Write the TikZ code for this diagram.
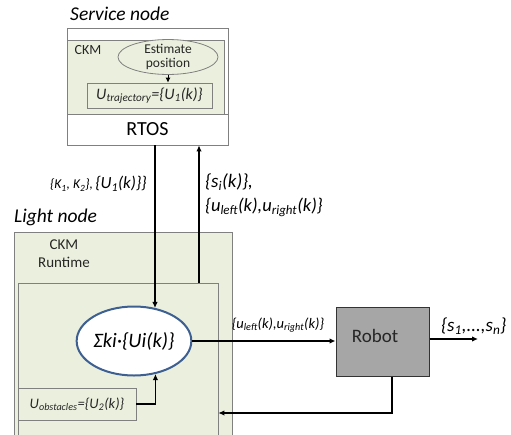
\documentclass[tikz,border=0pt]{standalone}
\usepackage{fontspec}
\setmainfont{Carlito}
\usetikzlibrary{shapes.geometric,arrows.meta}
\definecolor{ckmgreen}{HTML}{EBF0DE}
\definecolor{boxgray}{HTML}{808080}
\definecolor{robotgray}{HTML}{A6A6A6}
\definecolor{ellblue}{HTML}{3D5F91}
\definecolor{txtgray}{HTML}{262626}
\newcommand{\fsz}[1]{\fontsize{#1}{\the\dimexpr #1pt*6/5\relax}\selectfont}
\newcommand{\sub}[1]{\textsubscript{#1}}
\begin{document}
\begin{tikzpicture}[x=1pt,y=-1pt,
  grnbox/.style={draw=boxgray, fill=ckmgreen, line width=0.8pt, inner sep=0pt, text=txtgray},
  whitebox/.style={draw=boxgray, fill=white, line width=0.8pt, inner sep=0pt},
  conn/.style={line width=1.5pt, -{Latex[length=6pt,width=5.5pt]}},
  plain/.style={inner sep=0pt, align=center},
  lbl/.style={inner sep=0pt, font=\itshape}]
\useasboundingbox (0,0) rectangle (511,434);

% ---------------- Service node ----------------
\node[lbl, anchor=west, font=\fsz{19.5}\itshape] (svclbl) at (70,14) {Service node};
\node[whitebox, minimum width=161pt, minimum height=117pt] (svc) at (147.5,86.5) {};
\node[grnbox, minimum width=157pt, minimum height=74pt] (ckm) at (145.5,77) {};
\node[plain, font=\fsz{14}, text=txtgray] (ckmlbl) at (88,50) {CKM};
\node[grnbox, ellipse, minimum width=100pt, minimum height=32pt, font=\fsz{13.5}, align=center] (est) at (168,57) {Estimate\\[-3pt]position};
\node[grnbox, minimum width=125pt, minimum height=25pt, font=\fsz{16}\itshape] (utraj) at (149.5,95.5) {U\sub{trajectory}=\{U\sub{1}(k)\}};
\node[whitebox, minimum width=161pt, minimum height=31pt, font=\fsz{20}] (rtos) at (147.5,129.5) {RTOS};
\draw[line width=0.8pt, -{Latex[length=5pt,width=5pt]}] (est.south) -- (utraj.north -| est.south);

% ---------------- Light node ----------------
\node[lbl, anchor=west, font=\fsz{19.5}\itshape] (lightlbl) at (14,217) {Light node};
\node[grnbox, minimum width=218pt, minimum height=208pt] (light) at (123,336) {};
\node[grnbox, minimum width=200pt, minimum height=157pt] (inner) at (118,361.5) {};
\node[plain, font=\fsz{15}, text=txtgray] (ckmrt) at (64,254) {CKM\\[0pt]Runtime};
\node[ellipse, draw=ellblue, fill=white, line width=2pt, minimum width=107pt, minimum height=69pt, inner sep=0pt, font=\fsz{20.5}\itshape] (sig) at (134,341) {Σki·\{Ui(k)\}};
\node[grnbox, minimum width=118pt, minimum height=32pt, font=\fsz{14.5}\itshape] (uobs) at (77,404) {U\sub{obstacles}=\{U\sub{2}(k)\}};

% ---------------- Robot ----------------
\node[draw=black!80, fill=robotgray, line width=1pt, minimum width=93pt, minimum height=69pt, inner sep=0pt] (robot) at (382.5,341.5) {};
\node[plain, font=\fsz{19}, text=txtgray] (robotlbl) at (375,336) {Robot};

% ---------------- helper coordinates ----------------
\coordinate (dn) at (155,0);
\coordinate (ux) at (199,0);
\coordinate (fb) at (392,413);
\coordinate (out) at (478,339);

% ---------------- connectors ----------------
\draw[conn] (rtos.south -| dn) -- (dn |- sig.57);
\draw[conn] (inner.north -| ux) -- (rtos.south -| ux);
\draw[conn] (uobs.east) -| (sig.-57);
\draw[conn] (sig.east) -- (robot.west |- sig.east);
\draw[conn] (robot.east |- out) -- (out);
\draw[conn] (robot.south -| fb) -- (fb) -- (fb -| inner.east);

% ---------------- labels ----------------
\node[lbl, anchor=east] (klbl) at (147,184) {{\fsz{13.5}\itshape \{K\sub{1}, K\sub{2}\},} {\fsz{17}\itshape \{U\sub{1}(k)\}\}}};
\node[lbl, anchor=west, font=\fsz{19}\itshape] (silbl) at (205,182) {\{s\sub{i}(k)\},};
\node[lbl, anchor=west, font=\fsz{18.5}\itshape] (ulbl) at (205,207) {\{u\sub{left}(k),u\sub{right}(k)\}};
\node[lbl, anchor=center, font=\fsz{14.5}\itshape] (uarrlbl) at (278,325) {\{u\sub{left}(k),u\sub{right}(k)\}};
\node[lbl, anchor=west, font=\fsz{19}\itshape] (snlbl) at (441,326) {\{s\sub{1},...,s\sub{n}\}};
\end{tikzpicture}
\end{document}
